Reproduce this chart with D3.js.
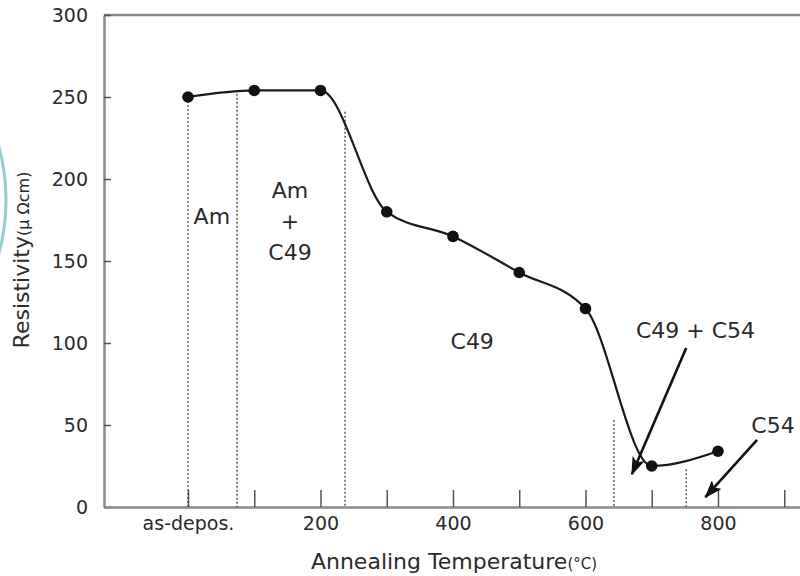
<!DOCTYPE html>
<html>
<head>
<meta charset="utf-8">
<script src="https://cdn.jsdelivr.net/npm/d3@7"></script>
<style>
  body { margin: 0; background: #fff; }
  svg { display: block; font-family: "DejaVu Sans", sans-serif; }
</style>
</head>
<body>
<script>
// annealing temperature (0 = as-deposited) and measured resistivity
const temps = [0, 100, 200, 300, 400, 500, 600, 700, 800];
const resistivity = [250, 254, 254, 180, 165, 143, 121, 25, 34];

const tickValues = [0, 100, 200, 300, 400, 500, 600, 700, 800, 900];
const tickLabels = { 0: "as-depos.", 200: "200", 400: "400", 600: "600", 800: "800" };

// phase boundaries (dotted lines): x position and where they meet the curve
const boundaryX = [0, 74, 237, 643, 752];
const boundaryTop = [250, 252, 241, 53, 23];

// phase labels
const phaseLabels = [
  { lines: ["Am"], x: 36, y: 177 },
  { lines: ["Am", "+", "C49"], x: 154, y: 174 },
  { lines: ["C49"], x: 429, y: 101 },
  { lines: ["C49 + C54"], x: 766, y: 108 },
  { lines: ["C54"], x: 883, y: 50 }
];

// arrows: [x1, y1] -> [x2, y2] in data units
const arrows = [
  [[752, 97], [670, 20]],
  [[859, 41], [781, 6]]
];

const margin = { top: 15, right: 0, bottom: 69, left: 104 },
      width = 800 - margin.left - margin.right,
      height = 576 - margin.top - margin.bottom;

const root = d3.select("body")
  .append("svg")
  .attr("width", 800)
  .attr("height", 576);

// faint teal arc at the left edge
root.append("circle")
  .attr("cx", -200)
  .attr("cy", 200)
  .attr("r", 206)
  .attr("fill", "none")
  .attr("stroke", "#8fcfcf")
  .attr("stroke-width", 3);

const svg = root.append("g")
  .attr("transform", `translate(${margin.left},${margin.top})`);

const x = d3.scaleLinear()
  .domain([-126.8, 923.8])
  .range([0, width]);

const y = d3.scaleLinear()
  .domain([0, 300])
  .range([height, 0]);

const axisColor = "#8a8a8a";
const textColor = "#2a2a2a";

// top border
svg.append("line")
  .attr("x1", 0).attr("x2", width)
  .attr("y1", 0).attr("y2", 0)
  .attr("stroke", axisColor)
  .attr("stroke-width", 2.5);

// axes
const yAxis = svg.append("g")
  .call(d3.axisLeft(y).tickValues([0, 50, 100, 150, 200, 250, 300]).tickSize(-7).tickSizeOuter(0).tickPadding(16));

const xAxis = svg.append("g")
  .attr("transform", `translate(0,${height})`)
  .call(d3.axisBottom(x).tickValues(tickValues).tickSize(-17).tickSizeOuter(0).tickPadding(10)
    .tickFormat(d => tickLabels[d] || ""));

[yAxis, xAxis].forEach(a => {
  a.select(".domain").attr("stroke", axisColor).attr("stroke-width", 2.5);
  a.selectAll(".tick line").attr("stroke", "#555").attr("stroke-width", 1.5);
  a.selectAll(".tick text")
    .attr("fill", textColor)
    .style("font-size", "19px")
    .style("font-family", "DejaVu Sans, sans-serif");
});

// dotted phase boundaries
svg.append("g")
  .selectAll("line")
  .data(boundaryX)
  .enter()
  .append("line")
  .attr("x1", d => x(d))
  .attr("x2", d => x(d))
  .attr("y1", (d, i) => y(boundaryTop[i]))
  .attr("y2", height)
  .attr("stroke", "#444")
  .attr("stroke-width", 1.3)
  .attr("stroke-dasharray", "2,2");

// curve
const points = temps.map((t, i) => [t, resistivity[i]]);
const line = d3.line()
  .x(d => x(d[0]))
  .y(d => y(d[1]))
  .curve(d3.curveMonotoneX);

svg.append("path")
  .datum(points)
  .attr("d", line)
  .attr("fill", "none")
  .attr("stroke", "#1a1a1a")
  .attr("stroke-width", 2.2);

svg.append("g")
  .selectAll("circle")
  .data(points)
  .enter()
  .append("circle")
  .attr("cx", d => x(d[0]))
  .attr("cy", d => y(d[1]))
  .attr("r", 5.8)
  .attr("fill", "#111");

// arrows
root.append("defs").append("marker")
  .attr("id", "head")
  .attr("viewBox", "0 0 14 10")
  .attr("refX", 13)
  .attr("refY", 5)
  .attr("markerWidth", 7)
  .attr("markerHeight", 5)
  .attr("markerUnits", "strokeWidth")
  .attr("orient", "auto")
  .append("path")
  .attr("d", "M0,0 L14,5 L0,10 L3,5 Z")
  .attr("fill", "#111");

svg.append("g")
  .selectAll("line")
  .data(arrows)
  .enter()
  .append("line")
  .attr("x1", d => x(d[0][0]))
  .attr("y1", d => y(d[0][1]))
  .attr("x2", d => x(d[1][0]))
  .attr("y2", d => y(d[1][1]))
  .attr("stroke", "#111")
  .attr("stroke-width", 2.6)
  .attr("marker-end", "url(#head)");

// phase labels
const labels = svg.append("g")
  .selectAll("text")
  .data(phaseLabels)
  .enter()
  .append("text")
  .attr("text-anchor", "middle")
  .attr("fill", textColor)
  .style("font-size", "22px");

labels.each(function(d) {
  const t = d3.select(this);
  const n = d.lines.length;
  d.lines.forEach((s, i) => {
    t.append("tspan")
      .attr("x", x(d.x))
      .attr("y", y(d.y) + (i - (n - 1) / 2) * 31)
      .attr("dy", "0.35em")
      .text(s);
  });
});

// axis titles
const yTitle = root.append("text")
  .attr("transform", "translate(29,260) rotate(-90)")
  .attr("text-anchor", "middle")
  .attr("fill", textColor)
  .style("font-size", "22px");
yTitle.append("tspan").text("Resistivity");
yTitle.append("tspan").style("font-size", "16px").text("(μ Ωcm)");

const xTitle = root.append("text")
  .attr("x", 454)
  .attr("y", 569)
  .attr("text-anchor", "middle")
  .attr("fill", textColor)
  .style("font-size", "22px");
xTitle.append("tspan").text("Annealing Temperature");
xTitle.append("tspan").style("font-size", "15px").text("(°C)");
</script>
</body>
</html>
